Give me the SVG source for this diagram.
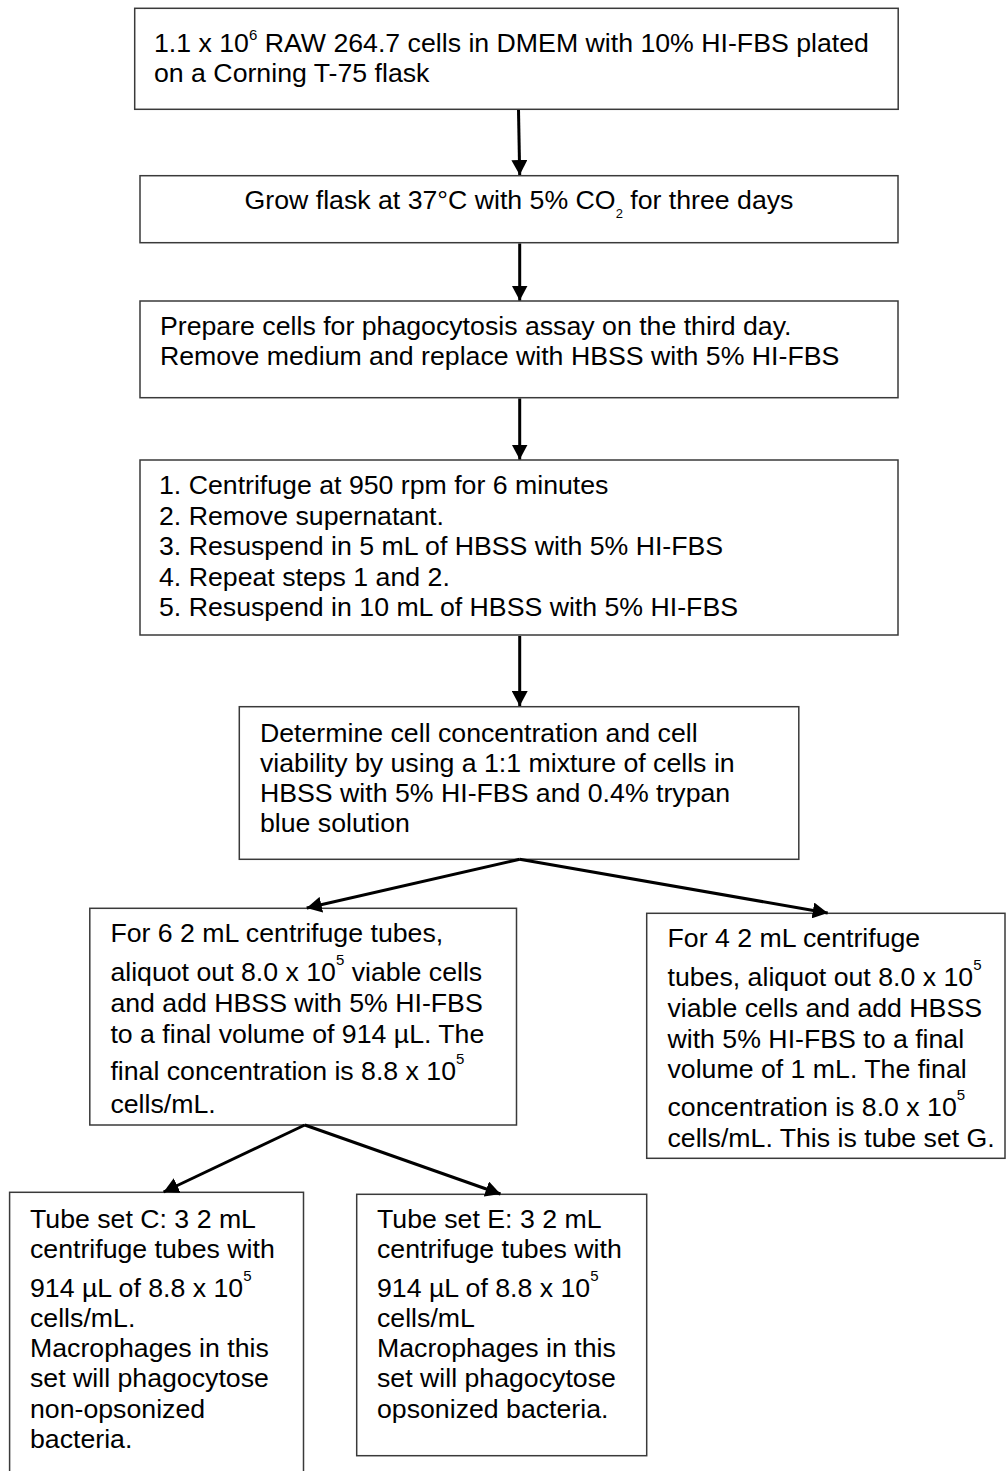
<svg xmlns="http://www.w3.org/2000/svg" width="1006" height="1471" viewBox="0 0 1006 1471">
<style>
.box{fill:#fff;stroke:#3a3a3a;stroke-width:1.5}
.t{font-family:"Liberation Sans",Arial,sans-serif;font-size:26.7px;fill:#000}
.sup{font-size:15px}
.conn{stroke:#000;stroke-width:3;fill:none;marker-end:url(#ah)}
</style>
<defs>
<marker id="ah" viewBox="0 0 15 16" refX="15" refY="8" markerWidth="15" markerHeight="16" orient="auto" markerUnits="userSpaceOnUse">
<path d="M0,0 L15,8 L0,16 z" fill="#000"/>
</marker>
</defs>
<rect width="1006" height="1471" fill="#fff"/>

<g id="n1">
<rect class="box" x="134.7" y="8.3" width="763.5" height="101"/>
<text class="t" x="154" y="51.7">1.1 x 10<tspan class="sup" font-size="12.5" dy="-12">6</tspan><tspan dy="12"> RAW 264.7 cells in DMEM with 10% HI-FBS plated</tspan></text>
<text class="t" x="154" y="81.7">on a Corning T-75 flask</text>
</g>

<g id="n2">
<rect class="box" x="140" y="175.7" width="758" height="67"/>
<text class="t" x="519" y="208.5" text-anchor="middle">Grow flask at 37°C with 5% CO<tspan font-size="13" dy="9">2</tspan><tspan dy="-9"> for three days</tspan></text>
</g>

<g id="n3">
<rect class="box" x="140" y="301" width="758" height="96.7"/>
<text class="t" x="160" y="335">Prepare cells for phagocytosis assay on the third day.</text>
<text class="t" x="160" y="364.5">Remove medium and replace with HBSS with 5% HI-FBS</text>
</g>

<g id="n4">
<rect class="box" x="140" y="460" width="758" height="175"/>
<text class="t" x="159" y="494">1. Centrifuge at 950 rpm for 6 minutes</text>
<text class="t" x="159" y="524.6">2. Remove supernatant.</text>
<text class="t" x="159" y="555.2">3. Resuspend in 5 mL of HBSS with 5% HI-FBS</text>
<text class="t" x="159" y="585.8">4. Repeat steps 1 and 2.</text>
<text class="t" x="159" y="616.4">5. Resuspend in 10 mL of HBSS with 5% HI-FBS</text>
</g>

<g id="n5">
<rect class="box" x="239.3" y="706.7" width="559.5" height="152.6"/>
<text class="t" x="260" y="742">Determine cell concentration and cell</text>
<text class="t" x="260" y="772">viability by using a 1:1 mixture of cells in</text>
<text class="t" x="260" y="802">HBSS with 5% HI-FBS and 0.4% trypan</text>
<text class="t" x="260" y="832">blue solution</text>
</g>

<g id="n6">
<rect class="box" x="89.8" y="908.3" width="426.7" height="216.7"/>
<text class="t" x="110.4" y="942">For 6 2 mL centrifuge tubes,</text>
<text class="t" x="110.4" y="981">aliquot out 8.0 x 10<tspan class="sup" dy="-16">5</tspan><tspan dy="16"> viable cells</tspan></text>
<text class="t" x="110.4" y="1012">and add HBSS with 5% HI-FBS</text>
<text class="t" x="110.4" y="1043">to a final volume of 914 µL. The</text>
<text class="t" x="110.4" y="1080">final concentration is 8.8 x 10<tspan class="sup" dy="-16">5</tspan></text>
<text class="t" x="110.4" y="1113">cells/mL.</text>
</g>

<g id="n7">
<rect class="box" x="646.7" y="913.3" width="358.3" height="245"/>
<text class="t" x="667.5" y="947">For 4 2 mL centrifuge</text>
<text class="t" x="667.5" y="986">tubes, aliquot out 8.0 x 10<tspan class="sup" dy="-16">5</tspan></text>
<text class="t" x="667.5" y="1017">viable cells and add HBSS</text>
<text class="t" x="667.5" y="1048">with 5% HI-FBS to a final</text>
<text class="t" x="667.5" y="1078">volume of 1 mL. The final</text>
<text class="t" x="667.5" y="1116">concentration is 8.0 x 10<tspan class="sup" dy="-16">5</tspan></text>
<text class="t" x="667.5" y="1147">cells/mL. This is tube set G.</text>
</g>

<g id="n8">
<rect class="box" x="9.6" y="1192.3" width="293.9" height="300"/>
<text class="t" x="30" y="1228">Tube set C: 3 2 mL</text>
<text class="t" x="30" y="1258">centrifuge tubes with</text>
<text class="t" x="30" y="1297">914 µL of 8.8 x 10<tspan class="sup" dy="-16">5</tspan></text>
<text class="t" x="30" y="1327">cells/mL.</text>
<text class="t" x="30" y="1357">Macrophages in this</text>
<text class="t" x="30" y="1387">set will phagocytose</text>
<text class="t" x="30" y="1418">non-opsonized</text>
<text class="t" x="30" y="1448">bacteria.</text>
</g>

<g id="n9">
<rect class="box" x="356.7" y="1194.3" width="290" height="261.4"/>
<text class="t" x="377" y="1228">Tube set E: 3 2 mL</text>
<text class="t" x="377" y="1258">centrifuge tubes with</text>
<text class="t" x="377" y="1297">914 µL of 8.8 x 10<tspan class="sup" dy="-16">5</tspan></text>
<text class="t" x="377" y="1327">cells/mL</text>
<text class="t" x="377" y="1357">Macrophages in this</text>
<text class="t" x="377" y="1387">set will phagocytose</text>
<text class="t" x="377" y="1418">opsonized bacteria.</text>
</g>

<g id="connectors">
<line class="conn" x1="518.5" y1="110" x2="519.7" y2="175"/>
<line class="conn" x1="519.7" y1="243.5" x2="519.7" y2="300.5"/>
<line class="conn" x1="519.7" y1="398.5" x2="519.7" y2="459.5"/>
<line class="conn" x1="519.7" y1="636" x2="519.7" y2="706"/>
<line class="conn" x1="519.7" y1="859.3" x2="306.7" y2="908"/>
<line class="conn" x1="519.7" y1="859.3" x2="827.7" y2="913"/>
<line class="conn" x1="304.8" y1="1125" x2="163.6" y2="1192"/>
<line class="conn" x1="304.8" y1="1125" x2="500.5" y2="1194"/>
</g>
</svg>
